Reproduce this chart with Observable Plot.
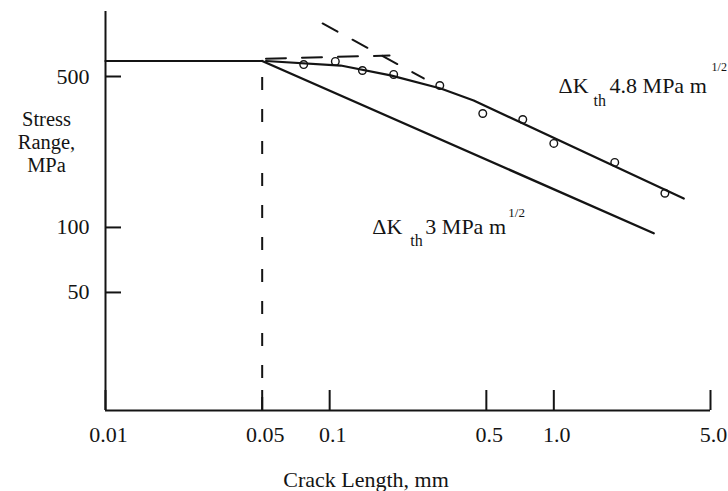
<!DOCTYPE html>
<html><head><meta charset="utf-8">
<script src="https://cdn.jsdelivr.net/npm/d3@7"></script>
<script src="https://cdn.jsdelivr.net/npm/@observablehq/plot@0.6"></script>
<style>body{margin:0;background:#fff;}</style>
</head><body><div id="chart"></div>
<script>
// Axis ticks
const xTicks = [0.01, 0.05, 0.1, 0.5, 1, 5];
const xTickLabels = ["0.01", "0.05", "0.1", "0.5", "1.0", "5.0"];
const yTicks = [50, 100, 500];
// Plateau (fatigue limit) and the two threshold lines
const plateauX = [0.01, 0.05];
const plateauY = [590, 590];
const lowerX = [0.05, 2.79];        // ΔKth 3 MPa m^1/2
const lowerY = [590, 94];
const upperX = [0.052, 0.112, 0.187, 0.313, 0.439, 3.80]; // ΔKth 4.8 MPa m^1/2
const upperY = [590, 562, 506, 440, 387, 136];
// Dashed construction lines
const dashFlatX = [0.052, 0.185];
const dashFlatY = [605, 625];
const dashSteepX = [0.093, 0.263];
const dashSteepY = [880, 490];
const cutoffX = 0.05;
const cutoffY = [14.2, 570];
// Test points
const pointX = [0.0766, 0.106, 0.140, 0.193, 0.310, 0.482, 0.727, 1.00, 1.87, 3.13];
const pointY = [568, 587, 533, 511, 454, 337, 316, 245, 200, 144];

const zip = (xs, ys) => xs.map((x, i) => ({x, y: ys[i]}));
const ink = "#141414";
const serif = "Liberation Serif, Times New Roman, serif";

function label(str, x, y, dx, dy, size) {
  return Plot.text([str], {x: () => x, y: () => y, text: d => d, dx, dy, fontSize: size, fontFamily: serif,
    textAnchor: "start", lineAnchor: "middle", fill: ink});
}

const chart = Plot.plot({
  width: 728,
  height: 491,
  marginLeft: 105,
  marginRight: 18,
  marginTop: 11,
  marginBottom: 81,
  style: {fontFamily: serif, fontSize: "22px", color: ink, background: "#fff"},
  x: {type: "log", domain: [0.01, 5], axis: null},
  y: {type: "log", domain: [14.2, 1000], axis: null},
  marks: [
    Plot.ruleX([0.01], {stroke: ink, strokeWidth: 2}),
    Plot.ruleY([14.2], {stroke: ink, strokeWidth: 2}),
    Plot.axisX(xTicks, {tickSize: -20, strokeWidth: 2, text: null, label: null}),
    Plot.text(xTicks, {x: d => d, text: (d, i) => xTickLabels[i], frameAnchor: "bottom", dx: 3, dy: 24,
      lineAnchor: "middle", textAnchor: "middle", fontSize: 22, fontFamily: serif, fill: ink}),
    Plot.axisY(yTicks, {tickSize: -16, strokeWidth: 2, text: null, label: null}),
    Plot.text(yTicks, {y: d => d, text: d => String(d), frameAnchor: "left", dx: -16,
      lineAnchor: "middle", textAnchor: "end", fontSize: 22, fontFamily: serif, fill: ink}),
    Plot.line(zip(plateauX, plateauY), {x: "x", y: "y", stroke: ink, strokeWidth: 2.2}),
    Plot.line(zip(lowerX, lowerY), {x: "x", y: "y", stroke: ink, strokeWidth: 2.4}),
    Plot.line(zip(upperX, upperY), {x: "x", y: "y", stroke: ink, strokeWidth: 2.2}),
    Plot.line(zip(dashFlatX, dashFlatY), {x: "x", y: "y", stroke: ink, strokeWidth: 2, strokeDasharray: "20,16"}),
    Plot.line(zip(dashSteepX, dashSteepY), {x: "x", y: "y", stroke: ink, strokeWidth: 2, strokeDasharray: "17,17"}),
    Plot.ruleX([cutoffX], {x: d => d, y1: cutoffY[0], y2: cutoffY[1], stroke: ink, strokeWidth: 2, strokeDasharray: "13,19"}),
    Plot.dot(zip(pointX, pointY), {x: "x", y: "y", r: 3.8, stroke: ink, strokeWidth: 1.4, fill: "none"}),
    // Annotations
    label("ΔK", 1.05, 454, 0, 0, 22),
    label("th", 1.05, 454, 35, 15, 16),
    label("4.8 MPa m", 1.05, 454, 51, 0, 22),
    label("1/2", 1.05, 454, 153, -18, 12),
    label("ΔK", 0.155, 101, 0, 0, 22),
    label("th", 0.155, 101, 38, 14, 16),
    label("3 MPa m", 0.155, 101, 53, 0, 22),
    label("1/2", 0.155, 101, 136, -14, 13),
    // Axis titles
    Plot.text(["Stress\nRange,\nMPa"], {text: d => d, frameAnchor: "left", dx: -59, dy: -69, textAnchor: "middle",
      lineAnchor: "middle", lineHeight: 1.12, fontSize: 20.5, fontFamily: serif, fill: ink}),
    Plot.text(["Crack Length, mm"], {text: d => d, frameAnchor: "bottom", dx: -42, dy: 69, textAnchor: "middle",
      lineAnchor: "middle", fontSize: 22, fontFamily: serif, fill: ink})
  ]
});
document.getElementById("chart").append(chart);
</script>
</body></html>
